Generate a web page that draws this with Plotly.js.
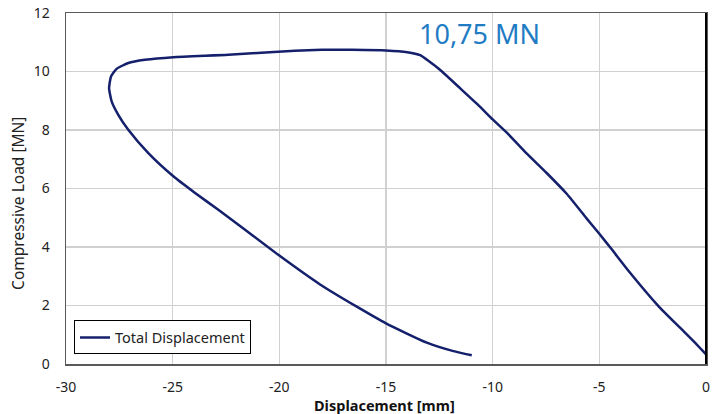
<!DOCTYPE html>
<html>
<head>
<meta charset="utf-8">
<script src="https://cdn.plot.ly/plotly-3.0.1.min.js"></script>
<style>html,body{margin:0;padding:0;background:#fff;}#chart{width:712px;height:414px;}</style>
</head>
<body>
<div id="chart"></div>
<script>
// Displacement [mm] (loading from 0 to the left, then unloading back)
var displacement = [0, -0.44, -1.22, -2.23, -3.56, -4.42, -5.0, -5.6, -6.53, -7.47, -8.41, -9.27, -10.0, -10.6, -11.53, -12.47, -13.0, -13.4, -14.0, -15.0, -16.6, -18.0, -19.27, -22.39, -24.97, -26.3, -27.08, -27.63, -27.89, -27.98, -27.86, -27.55, -27.08, -26.14, -24.97, -23.95, -22.86, -21.84, -19.97, -18.09, -16.37, -15.0, -13.09, -11.84, -10.98];
// Compressive load [MN]
var load = [0.33, 0.67, 1.24, 1.98, 3.12, 3.92, 4.45, 4.98, 5.82, 6.53, 7.2, 7.86, 8.36, 8.8, 9.43, 10.06, 10.36, 10.56, 10.66, 10.72, 10.74, 10.74, 10.71, 10.57, 10.49, 10.4, 10.29, 10.09, 9.83, 9.43, 8.98, 8.52, 8.01, 7.21, 6.42, 5.85, 5.27, 4.72, 3.69, 2.72, 1.96, 1.39, 0.73, 0.44, 0.30];
var seriesName = 'Total Displacement';
var peakLabel = '10,75 MN';
var peakLabelPos = [-10.62, 11.3];
var xTicks = [-30, -25, -20, -15, -10, -5, 0];
var yTicks = [0, 2, 4, 6, 8, 10, 12];
var xTitle = 'Displacement [mm]';
var yTitle = 'Compressive Load [MN]';

var font = "Noto Sans, Open Sans, sans-serif";
var trace = {
  x: displacement, y: load, name: seriesName, type: 'scatter', mode: 'lines',
  line: {color: '#14206c', width: 2.5, shape: 'spline', smoothing: 0.5}
};
var layout = {
  width: 712, height: 414,
  margin: {l: 66, r: 6, t: 13, b: 50},
  paper_bgcolor: '#fff', plot_bgcolor: '#fff',
  showlegend: true,
  legend: {x: 0.0125, y: 0.124, xanchor: 'left', yanchor: 'top',
    bordercolor: '#000', borderwidth: 1, bgcolor: '#fff',
    entrywidth: 195, entrywidthmode: 'pixels',
    font: {family: font, size: 14.5, color: '#222'}},
  xaxis: {range: [-30, 0], tickvals: xTicks, ticktext: xTicks.map(String),
    showgrid: true, gridcolor: '#d0d0d0', gridwidth: 1.4,
    showline: true, linecolor: '#595959', linewidth: 1.5, mirror: true,
    zeroline: false, ticks: 'outside', ticklen: 10, tickcolor: 'rgba(0,0,0,0)',
    tickfont: {family: font, size: 14, color: '#222'}},
  yaxis: {range: [0, 12], tickvals: yTicks, ticktext: yTicks.map(String),
    showgrid: true, gridcolor: '#d0d0d0', gridwidth: 1.4,
    showline: true, linecolor: '#595959', linewidth: 1.5, mirror: true,
    zeroline: false, ticks: 'outside', ticklen: 12, tickcolor: 'rgba(0,0,0,0)',
    tickfont: {family: font, size: 14, color: '#222'}},
  shapes: [{type: 'line', xref: 'paper', yref: 'paper', x0: 1, x1: 1, y0: 0, y1: 1,
    line: {color: '#000', width: 2}}],
  annotations: [
    {x: peakLabelPos[0], y: peakLabelPos[1], xref: 'x', yref: 'y', text: peakLabel,
      showarrow: false, font: {family: font, size: 27, color: '#1f7cc4'}, xanchor: 'center', yanchor: 'middle'},
    {x: 0.497, y: -0.118, xref: 'paper', yref: 'paper', text: '<b>' + xTitle + '</b>',
      showarrow: false, font: {family: font, size: 14.5, color: '#111'}, xanchor: 'center', yanchor: 'middle'},
    {x: -0.074, y: 0.458, xref: 'paper', yref: 'paper', text: yTitle, textangle: -90,
      showarrow: false, font: {family: font, size: 15.5, color: '#222'}, xanchor: 'center', yanchor: 'middle'}
  ]
};
Plotly.newPlot('chart', [trace], layout, {staticPlot: true, displayModeBar: false});
</script>
</body>
</html>
